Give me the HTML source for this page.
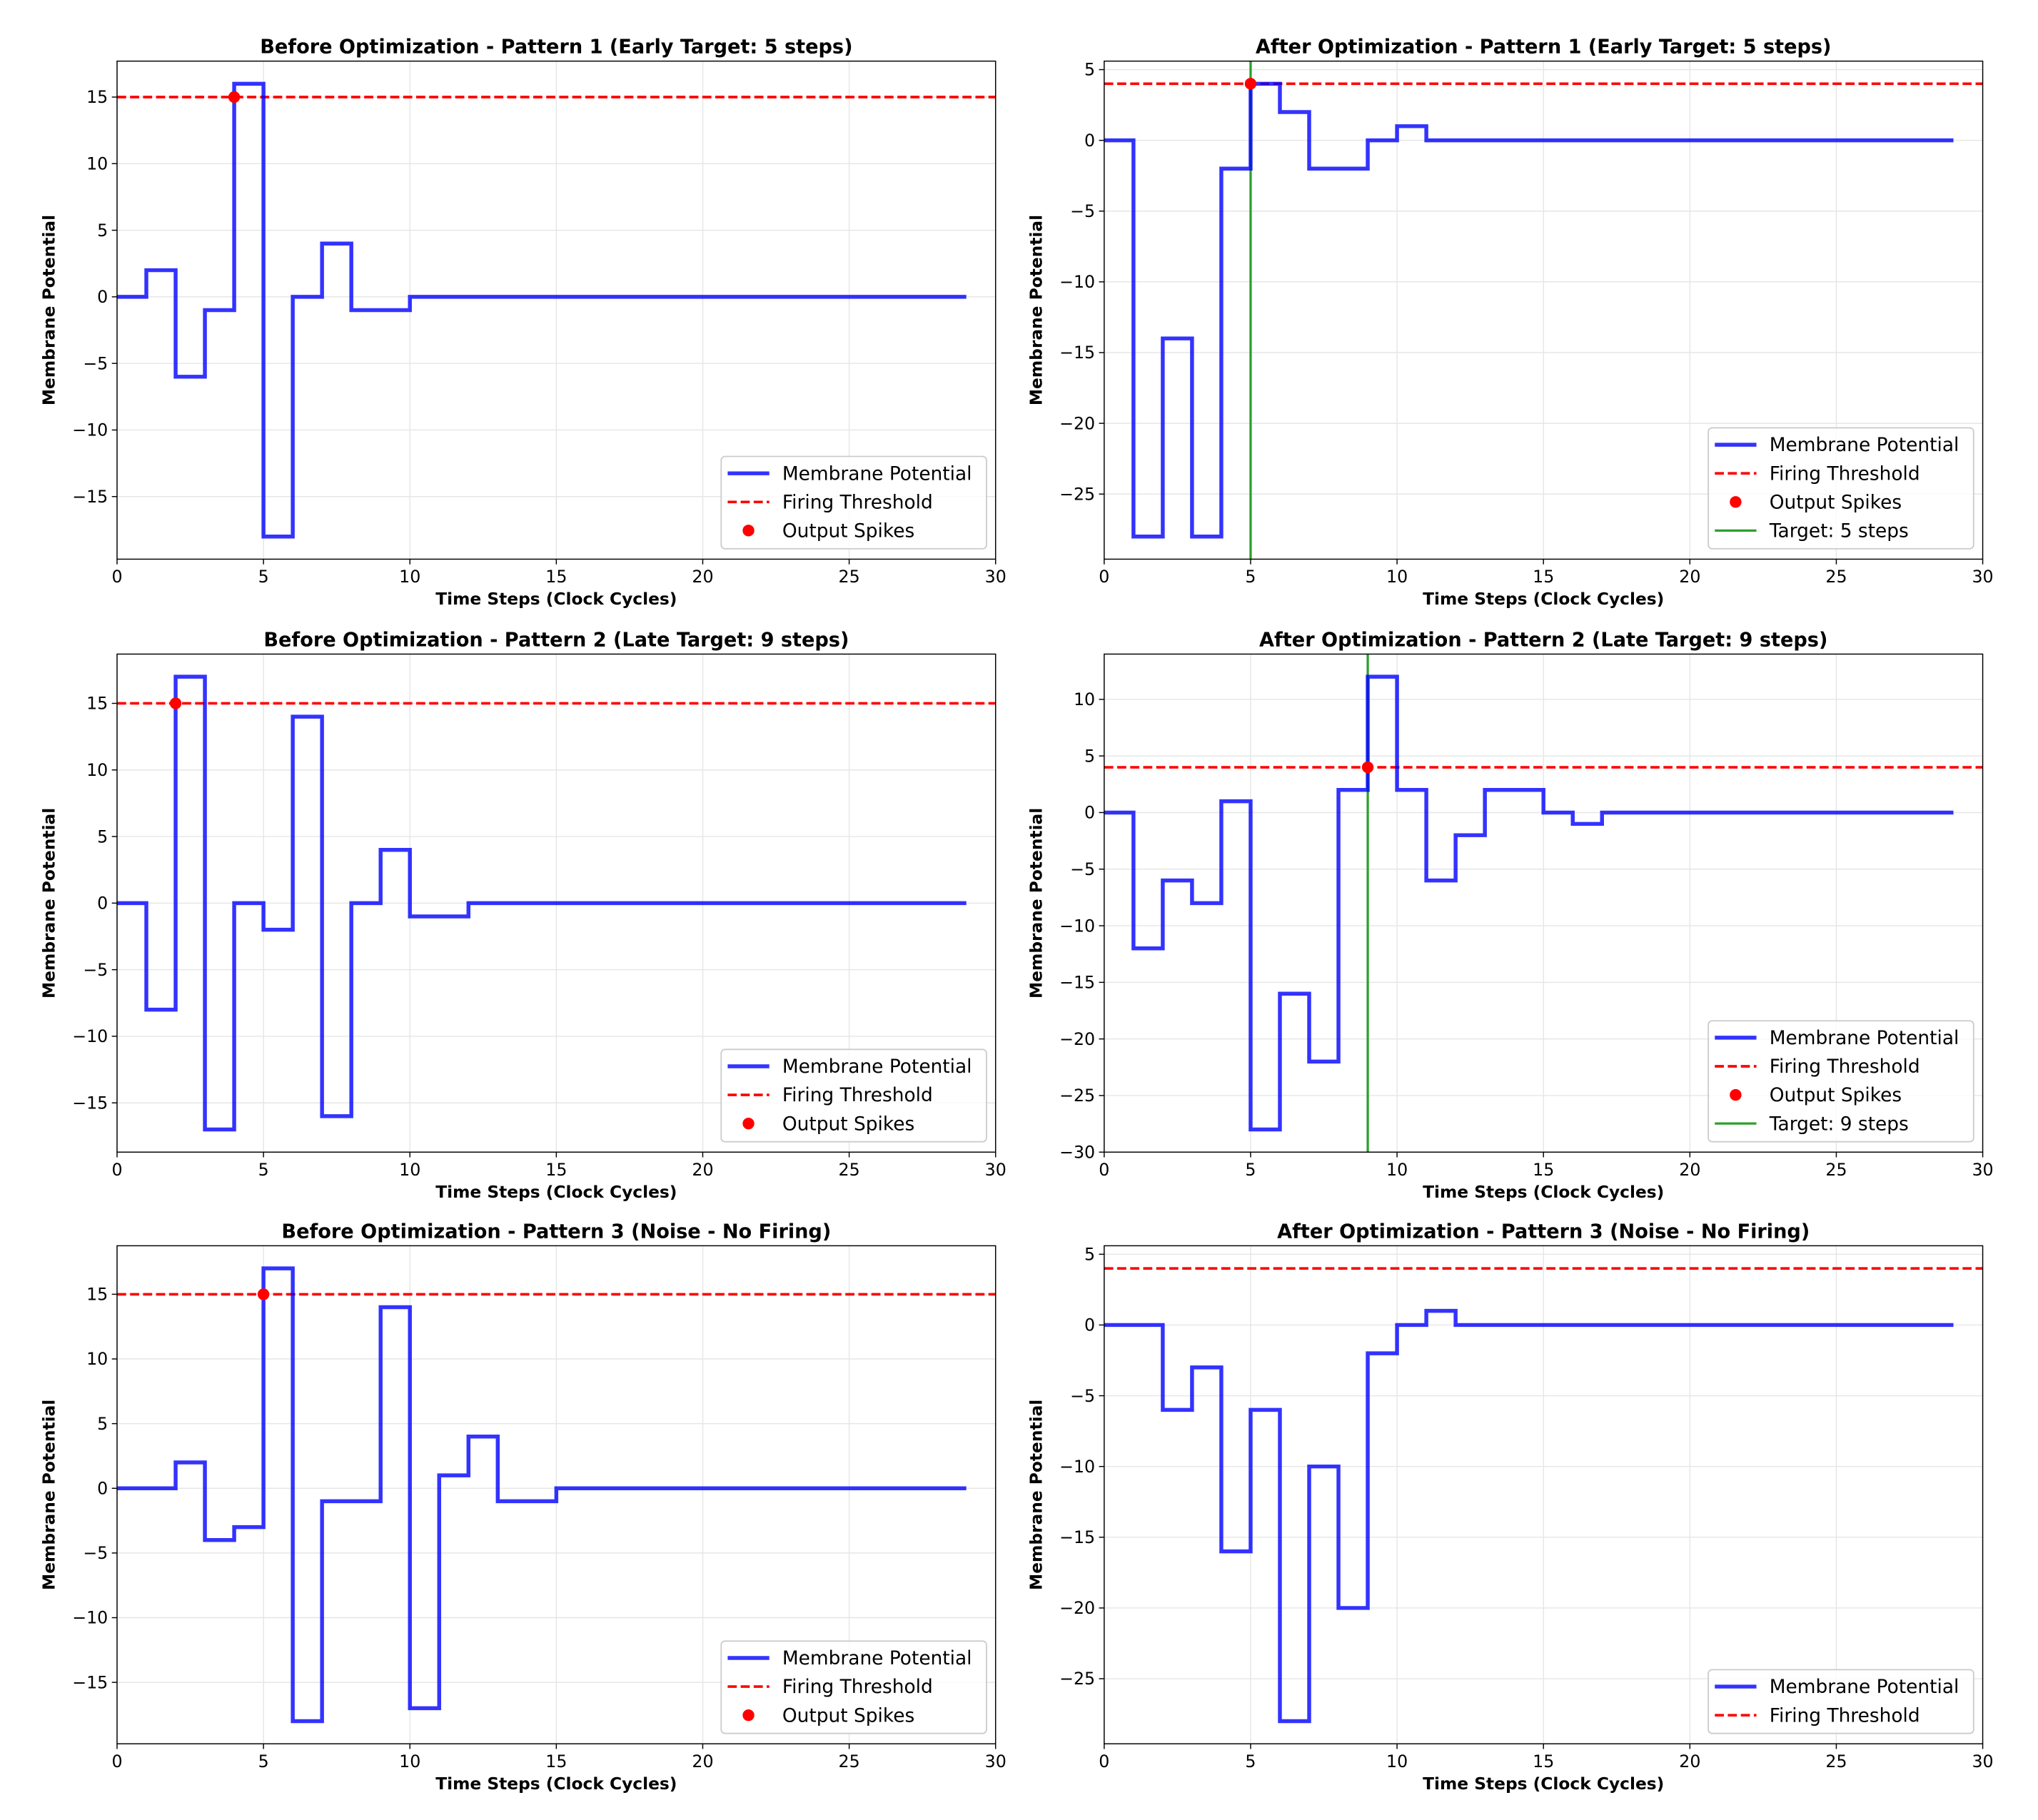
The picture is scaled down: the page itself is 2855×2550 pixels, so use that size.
<!DOCTYPE html>
<html><head><meta charset="utf-8"><style>
html,body{margin:0;padding:0;background:#fff;}
svg{display:block;font-family:"DejaVu Sans","Liberation Sans",sans-serif;}
</style></head><body>
<svg id="fig" width="2855" height="2550" viewBox="0 0 1567 1399.6" xmlns="http://www.w3.org/2000/svg"></svg>
<script>
const titles=["Before Optimization - Pattern 1 (Early Target: 5 steps)","After Optimization - Pattern 1 (Early Target: 5 steps)","Before Optimization - Pattern 2 (Late Target: 9 steps)","After Optimization - Pattern 2 (Late Target: 9 steps)","Before Optimization - Pattern 3 (Noise - No Firing)","After Optimization - Pattern 3 (Noise - No Firing)"];
const pad=n=>Array(n).fill(0);
const pot1=[0,2,-6,-1,16,-18,0,4,-1,-1].concat(pad(20));
const pot2=[0,-28,-14,-28,-2,4,2,-2,-2,0,1].concat(pad(19));
const pot3=[0,-8,17,-17,0,-2,14,-16,0,4,-1,-1].concat(pad(18));
const pot4=[0,-12,-6,-8,1,-28,-16,-22,2,12,2,-6,-2,2,2,0,-1].concat(pad(13));
const pot5=[0,0,2,-4,-3,17,-18,-1,-1,14,-17,1,4,-1,-1].concat(pad(15));
const pot6=[0,0,-6,-3,-16,-6,-28,-10,-20,-2,0,1].concat(pad(18));
const potentials=[pot1,pot2,pot3,pot4,pot5,pot6];
const thresholds=[15,4,15,4,15,4];
const spikeTimes=[[4],[5],[2],[9],[5],[]];
const targets=[null,5,null,9,null,null];
const yLims=[[-19.7,17.7],[-29.6,5.6],[-18.7,18.7],[-30,14],[-19.75,18.75],[-29.6,5.6]];
const yTicks=[[-15,-10,-5,0,5,10,15],[-25,-20,-15,-10,-5,0,5],[-15,-10,-5,0,5,10,15],[-30,-25,-20,-15,-10,-5,0,5,10],[-15,-10,-5,0,5,10,15],[-25,-20,-15,-10,-5,0,5]];
const xTicks=[0,5,10,15,20,25,30];

const NS="http://www.w3.org/2000/svg";
const svg=document.getElementById('fig');
function mk(tag,attrs,parent){const e=document.createElementNS(NS,tag);for(const k in attrs)e.setAttribute(k,attrs[k]);(parent||svg).appendChild(e);return e;}
const cols=[90,849],rows=[47,503,958],W=675.5,H=383;
for(let p=0;p<6;p++){
  const L=cols[p%2],T=rows[Math.floor(p/2)],R=L+W,B=T+H;
  const [y0,y1]=yLims[p];
  const sx=v=>L+v/30*W, sy=v=>B-(v-y0)/(y1-y0)*H;
  const g=mk('g',{});
  
  
  xTicks.forEach(t=>{const l=mk('line',{x1:sx(t),x2:sx(t),y1:T,y2:B,stroke:'#e6e6e6','stroke-width':0.8},g);
    const tk=mk('line',{x1:sx(t),x2:sx(t),y1:B,y2:B+4,stroke:'#000','stroke-width':0.8},g);
    const tx=mk('text',{x:sx(t),y:B+18,'font-size':13,'text-anchor':'middle'},g);tx.textContent=t;});
  yTicks[p].forEach(t=>{const l=mk('line',{x1:L,x2:R,y1:sy(t),y2:sy(t),stroke:'#e6e6e6','stroke-width':0.8},g);
    const tk=mk('line',{x1:L-4,x2:L,y1:sy(t),y2:sy(t),stroke:'#000','stroke-width':0.8},g);
    const tx=mk('text',{x:L-7,y:sy(t)+4.5,'font-size':13,'text-anchor':'end'},g);tx.textContent=(t<0?'\u2212'+(-t):t);});
  const th=mk('line',{x1:L,x2:R,y1:sy(thresholds[p]),y2:sy(thresholds[p]),stroke:'#ff0000','stroke-width':2,'stroke-dasharray':'7,3'},g);
  
  if(targets[p]!==null){const tl=mk('line',{x1:sx(targets[p]),x2:sx(targets[p]),y1:T,y2:B,stroke:'#2ca02c','stroke-width':1.8},g);}
  const v=potentials[p];let d='M'+sx(0)+','+sy(v[0]);
  for(let i=1;i<v.length;i++){d+=' L'+sx(i)+','+sy(v[i-1])+' L'+sx(i)+','+sy(v[i]);}
  const pl=mk('path',{d:d,fill:'none',stroke:'#0000ff','stroke-opacity':0.8,'stroke-width':3,'stroke-linejoin':'miter'},g);
  
  spikeTimes[p].forEach(t=>{const c=mk('circle',{cx:sx(t),cy:sy(thresholds[p]),r:4.5,fill:'#ff0000'},g);});
  const fr=mk('rect',{x:L,y:T,width:W,height:H,fill:'none',stroke:'#000','stroke-width':0.8},g);
  const ti=mk('text',{x:L+W/2,y:T-6,'font-size':14.9,'font-weight':'bold','text-anchor':'middle'},g);ti.textContent=titles[p];
  const xl=mk('text',{x:L+W/2,y:B+35,'font-size':12.8,'font-weight':'bold','text-anchor':'middle'},g);xl.textContent='Time Steps (Clock Cycles)';
  const yl=mk('text',{x:0,y:0,'font-size':12.8,'font-weight':'bold','text-anchor':'middle',transform:`translate(${L-48},${T+H/2}) rotate(-90)`},g);yl.textContent='Membrane Potential';
  const entries=[['line','Membrane Potential'],['dash','Firing Threshold']];
  if(p!==5)entries.push(['dot','Output Spikes']);
  if(targets[p]!==null)entries.push(['green','Target: '+targets[p]+' steps']);
  const lh=22,bh=entries.length*lh+5,bw=204,bx=R-7-bw,by=B-8-bh;
  const lg=mk('g',{},g);
  mk('rect',{x:bx,y:by,width:bw,height:bh,rx:3,fill:'#fff','fill-opacity':0.8,stroke:'#cccccc','stroke-width':1},lg);
  entries.forEach((e,i)=>{const cy=by+13+i*lh;
    const eg=mk('g',{},lg);
    if(e[0]==='line')mk('line',{x1:bx+5,x2:bx+37,y1:cy,y2:cy,stroke:'#0000ff','stroke-opacity':0.8,'stroke-width':3},eg);
    if(e[0]==='dash')mk('line',{x1:bx+5,x2:bx+37,y1:cy,y2:cy,stroke:'#ff0000','stroke-width':2,'stroke-dasharray':'7,3'},eg);
    if(e[0]==='dot')mk('circle',{cx:bx+21,cy:cy,r:4.5,fill:'#ff0000'},eg);
    if(e[0]==='green')mk('line',{x1:bx+5,x2:bx+37,y1:cy,y2:cy,stroke:'#2ca02c','stroke-width':1.8},eg);
    const t=mk('text',{x:bx+47,y:cy+5,'font-size':14.5},eg);t.textContent=e[1];});
}
</script>
</body></html>
